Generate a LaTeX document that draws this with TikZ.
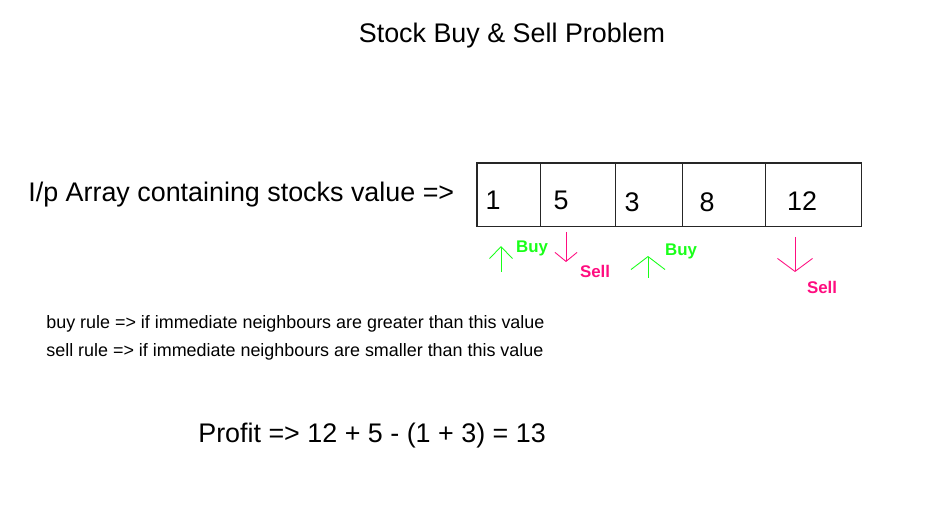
\documentclass[tikz,border=0pt]{standalone}
\usepackage{fontspec}
\setmainfont{Liberation Sans}
\usetikzlibrary{arrows.meta}
\definecolor{buygreen}{rgb}{0.1,1.0,0.1}
\definecolor{sellpink}{rgb}{1.0,0.05,0.5}
\newcommand{\bigfont}{\fontsize{15.3}{18}\selectfont}
\newcommand{\rulefont}{\fontsize{10.2}{12}\selectfont}

\begin{document}
\begin{tikzpicture}[x=0.02cm,y=-0.02cm,
  cell/.style={draw=black!85,line width=0.6pt,minimum height=1.27cm,inner sep=0pt,outer sep=0pt,anchor=north west},
  num/.style={font=\bigfont,inner sep=0pt},
  lbl/.style={font=\fontsize{9.6}{11}\selectfont\bfseries,inner sep=0pt},
  arr/.style 2 args={line width=0.5pt,-{Straight Barb[length=#1,width=#2]}}]
\useasboundingbox (0,0) rectangle (927,506);
\node[font=\bigfont] (title) at (512,36) {Stock Buy \& Sell Problem};
\node[font=\bigfont,anchor=west,inner sep=0pt] (input) at (28,195) {I/p Array containing stocks value =>};
% array cells
\node[cell,minimum width=1.27cm] (c1) at (477,163) {};
\node[cell,minimum width=1.50cm] (c2) at (c1.north east) {};
\node[cell,minimum width=1.34cm] (c3) at (c2.north east) {};
\node[cell,minimum width=1.66cm] (c4) at (c3.north east) {};
\node[cell,minimum width=1.92cm] (c5) at (c4.north east) {};
\node[num] (n1) at (493,200) {1};
\node[num] (n2) at (561,200) {5};
\node[num] (n3) at (632,202) {3};
\node[num] (n4) at (707,202) {8};
\node[num] (n5) at (802,201) {12};
% buy / sell marks
\coordinate (b1s) at (501,272);\coordinate (b1e) at (501,246);
\coordinate (s1s) at (566,232);\coordinate (s1e) at (566,262);
\coordinate (b2s) at (648,278);\coordinate (b2e) at (648,256);
\coordinate (s2s) at (795,237);\coordinate (s2e) at (795,272);
\draw[buygreen,arr={0.24cm}{0.46cm}] (b1s)--(b1e);
\draw[sellpink,arr={0.18cm}{0.44cm}] (s1s)--(s1e);
\draw[buygreen,arr={0.26cm}{0.68cm}] (b2s)--(b2e);
\draw[sellpink,arr={0.26cm}{0.70cm}] (s2s)--(s2e);
\node[lbl,buygreen] (buy1) at (532,248) {Buy};
\node[lbl,sellpink] (sell1) at (595,271) {Sell};
\node[lbl,buygreen] (buy2) at (681,251) {Buy};
\node[lbl,sellpink] (sell2) at (822,287) {Sell};
% rules and result
\node[font=\rulefont,anchor=west,inner sep=0pt] (buyrule) at (46,324) {buy rule => if immediate neighbours are greater than this value};
\node[font=\rulefont,anchor=west,inner sep=0pt] (sellrule) at (46,352) {sell rule => if immediate neighbours are smaller than this value};
\node[font=\bigfont,anchor=west,inner sep=0pt] (profit) at (198,436) {Profit => 12 + 5 - (1 + 3) = 13};
\end{tikzpicture}
\end{document}
